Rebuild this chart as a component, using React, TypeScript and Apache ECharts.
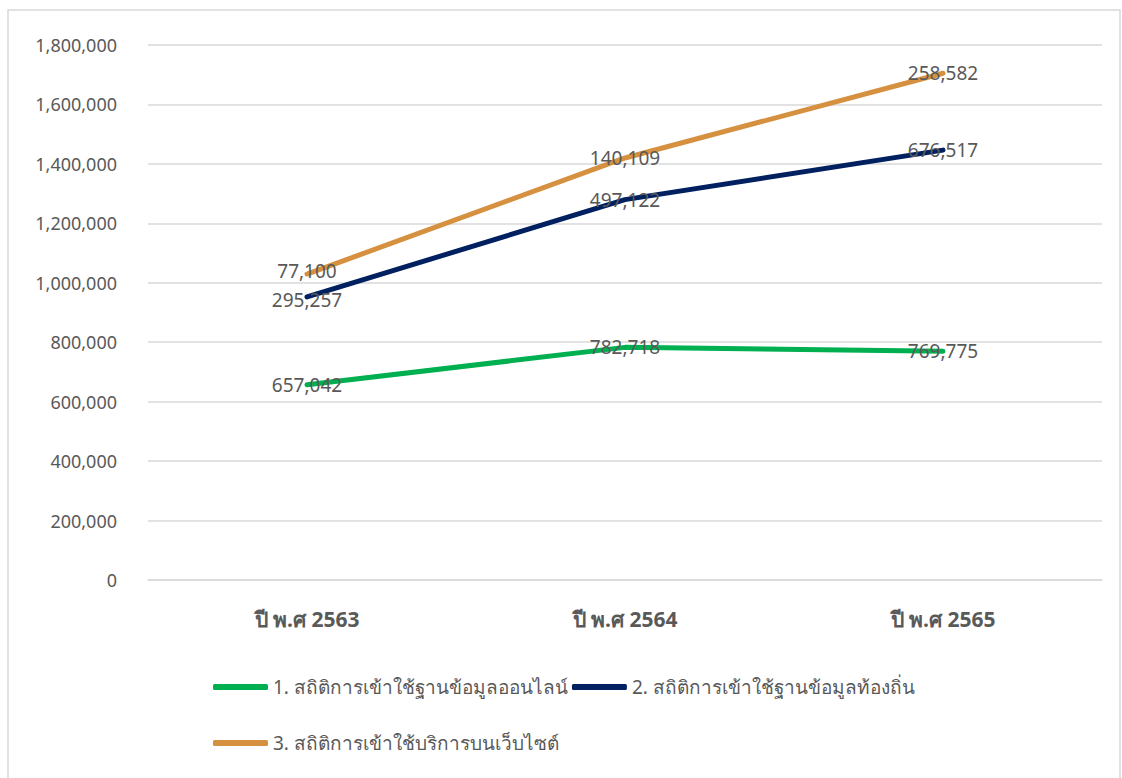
import React, { useEffect, useRef } from "react";
import * as echarts from "echarts";

const categories = ["ปี พ.ศ 2563", "ปี พ.ศ 2564", "ปี พ.ศ 2565"];
const seriesNames = [
  "1. สถิติการเข้าใช้ฐานข้อมูลออนไลน์",
  "2. สถิติการเข้าใช้ฐานข้อมูลท้องถิ่น",
  "3. สถิติการเข้าใช้บริการบนเว็บไซต์",
];
const onlineDb = [657042, 782718, 769775];
const localDb = [295257, 497122, 676517];
const website = [77100, 140109, 258582];
const colors = ["#00b050", "#002060", "#d69140"];

const FONT = "'Noto Sans', 'Open Sans', sans-serif";

// small label nudges to keep the crowded first-year labels apart
const labelNudge: Record<string, number> = { "1-0": 3, "2-0": -3 };

export default function App() {
  const ref = useRef<HTMLDivElement>(null);
  useEffect(() => {
    if (!ref.current) return;
    const chart = echarts.init(ref.current, null, { renderer: "svg" });
    const values = [onlineDb, localDb, website];
    chart.setOption({
      animation: false,
      backgroundColor: "#ffffff",
      graphic: [
        {
          type: "rect",
          shape: { x: 8, y: 10, width: 1112, height: 790 },
          style: { fill: "none", stroke: "#d9d9d9", lineWidth: 1.5 },
          silent: true,
        },
      ],
      grid: { left: 148, right: 20, top: 45, bottom: 198 },
      xAxis: {
        type: "category",
        data: categories,
        boundaryGap: true,
        axisLine: { show: true, lineStyle: { color: "#d9d9d9", width: 1.5 } },
        axisTick: { show: false },
        axisLabel: {
          margin: 28,
          fontSize: 21,
          fontWeight: "bold",
          color: "#595959",
          fontFamily: FONT,
        },
      },
      yAxis: {
        type: "value",
        min: 0,
        max: 1800000,
        interval: 200000,
        axisLine: { show: false },
        axisTick: { show: false },
        splitLine: { lineStyle: { color: "#d9d9d9", width: 1.5 } },
        axisLabel: {
          margin: 31,
          fontSize: 18,
          color: "#595959",
          fontFamily: FONT,
          formatter: (v: number) => v.toLocaleString("en-US"),
        },
      },
      legend: {
        left: 208,
        top: 656,
        width: 760,
        itemGap: 4,
        itemWidth: 55,
        itemHeight: 6,
        icon: "roundRect",
        textStyle: {
          fontSize: 19,
          color: "#595959",
          fontFamily: FONT,
          lineHeight: 52,
        },
        data: seriesNames,
      },
      series: values.map((vals, i) => ({
        name: seriesNames[i],
        type: "line",
        stack: "total",
        data: vals.map((v, j) => {
          const n = labelNudge[`${i}-${j}`];
          return n ? { value: v, label: { offset: [0, n] } } : v;
        }),
        symbol: "circle",
        symbolSize: 1,
        showSymbol: true,
        lineStyle: { width: 5, color: colors[i], cap: "round" },
        itemStyle: { color: colors[i] },
        label: {
          show: true,
          position: "inside",
          fontSize: 19,
          lineHeight: 19,
          color: "#595959",
          fontFamily: FONT,
          formatter: (p: any) => Number(p.value).toLocaleString("en-US"),
        },
      })),
    });
    return () => chart.dispose();
  }, []);
  return (
    <div
      ref={ref}
      style={{ position: "absolute", left: 0, top: 0, width: 1122, height: 778 }}
    />
  );
}
